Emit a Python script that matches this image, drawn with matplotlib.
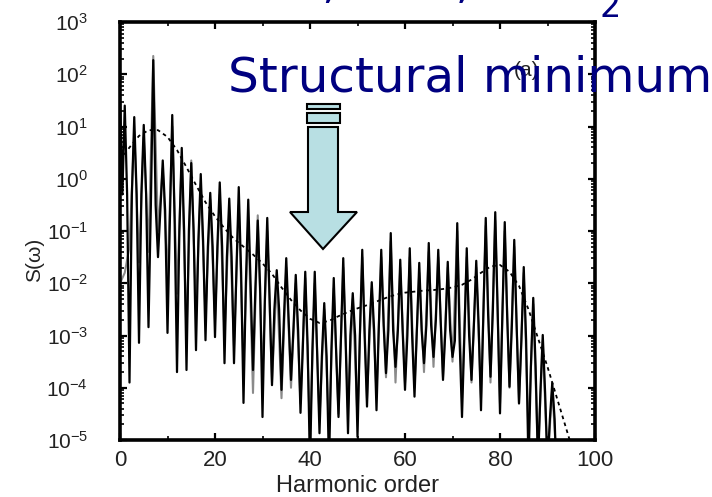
import numpy as np
import matplotlib
matplotlib.use('Agg')
import matplotlib.pyplot as plt
from matplotlib.patches import Polygon, Rectangle
from matplotlib.ticker import FixedLocator, LogLocator, NullFormatter

plt.rcParams['font.family'] = ['Liberation Sans', 'DejaVu Sans']
plt.rcParams['mathtext.fontset'] = 'custom'
plt.rcParams['mathtext.rm'] = 'Liberation Sans'
plt.rcParams['mathtext.it'] = 'Liberation Sans:italic'

# ---------------- data (log10 of S(omega)) ----------------
odd_orders = list(range(1, 100, 2))
even_orders = list(range(0, 101, 2))

black_peak_log = [1.4, 1.18, 1.03, 2.27, 0.35, 1.22, 0.59, 0.30, 0.09, -0.27,
                  -0.07, -0.38, -0.16, -0.40, -0.80, -0.75, -1.75, -1.52, -1.84, -1.78,
                  -1.78, -2.38, -1.90, -1.52, -2.19, -1.36, -1.98, -1.36, -1.04, -1.55,
                  -1.33, -1.61, -1.23, -1.36, -1.59, -0.85, -1.33, -1.57, -0.75, -0.64,
                  -0.83, -1.17, -1.69, -2.28, -2.99, -3.91, -5.5, -6, -6, -6]

black_band_log = [-0.3, -0.3, -0.3, -0.5, -0.6, -0.8, -1.0, -1.0, -1.2, -1.3,
                  -1.3, -1.5, -1.8, -2.0, -2.1, -2.3, -2.5, -2.7, -2.9, -3.2,
                  -3.3, -3.4, -3.3, -3.1, -3.0, -3.0, -2.9, -2.8, -2.9, -2.9,
                  -3.0, -2.9, -2.8, -2.7, -2.9, -3.1, -3.0, -2.8, -2.6, -2.5,
                  -2.6, -2.8, -3.1, -3.6, -4.1, -4.6, -5.3, -6, -6, -6]

black_trough_log = [1.6, -3.9, -3.14, -2.84, -1.5, -2.95, -3.7, -3.66, -3.28, -3.09,
                    -3.03, -3.53, -3.53, -4.29, -3.66, -4.56, -3.95, -4.04, -3.85, -4.48,
                    -5.5, -4.87, -5.5, -4.56, -4.87, -4.94, -4.36, -4.43, -3.72, -3.6,
                    -4.04, -4.17, -3.53, -3.41, -3.85, -3.41, -4.56, -3.85, -4.43, -3.79,
                    -4.49, -3.98, -4.3, -5.5, -5.5, -5.5, -6, -6, -6, -6, -6]

gray_orders = list(range(0, 101))
gray_log = [-2.0, -1.8, -1.3, 0.9, -1.6, 0.8, -1.4, 2.35, -1.0, 0.2,
            -1.9, 1.0, -2.2, 0.4, -3.0, 0.35, -2.5, -0.1, -2.6, -0.4,
            -2.7, -0.3, -3.0, -0.6, -3.2, -0.5, -3.6, -0.8, -4.1, -0.7,
            -3.8, -1.0, -3.9, -1.9, -4.2, -1.7, -4.0, -2.0, -4.3, -1.9,
            -4.9, -2.0, -4.6, -2.5, -4.8, -2.1, -4.5, -1.7, -4.4, -2.3,
            -4.6, -1.5, -4.2, -2.1, -4.1, -1.5, -3.8, -1.2, -3.9, -1.7,
            -3.9, -1.5, -4.0, -1.8, -3.7, -1.4, -3.6, -1.5, -3.8, -1.7,
            -3.5, -1.0, -4.2, -1.5, -3.9, -1.7, -4.2, -0.9, -3.9, -0.8,
            -4.3, -1.0, -4.0, -1.3, -4.3, -1.8, -4.9, -2.4, -5.3, -3.1,
            -5.5, -4.0, -5.6, -5.3, -6, -6, -6, -6, -6, -6,
            -6]

env_orders = list(range(0, 101, 2))
env_log = [0.35, 0.6, 0.82, 0.93, 0.93, 0.8, 0.55, 0.22, -0.12, -0.45,
           -0.72, -0.95, -1.15, -1.3, -1.45, -1.62, -1.82, -2.08, -2.32, -2.52,
           -2.68, -2.76, -2.72, -2.63, -2.55, -2.48, -2.42, -2.35, -2.28, -2.22,
           -2.18, -2.16, -2.14, -2.13, -2.11, -2.08, -2.03, -1.93, -1.8, -1.68,
           -1.65, -1.78, -2.05, -2.5, -3.05, -3.6, -4.2, -4.8, -5.4, -6, -6]

xtick_values = [0, 20, 40, 60, 80, 100]

# ---------------- build black trace ----------------
bx, by = [], []
for i, n in enumerate(odd_orders):
    bx += [even_orders[i], n - 0.5, n, n + 0.5]
    by += [black_trough_log[i], black_band_log[i], black_peak_log[i], black_band_log[i]]
bx.append(even_orders[-1])
by.append(black_trough_log[-1])
by = 10.0 ** np.array(by)

W, H = 712, 497
fig = plt.figure(figsize=(W / 100, H / 100), dpi=100)
ax = fig.add_axes([120 / W, 1 - 440 / H, 475 / W, 418 / H])

ax.plot(gray_orders, 10.0 ** np.array(gray_log), color='#8a8a8a', lw=1.5, zorder=2)
ax.plot(bx, by, color='black', lw=1.6, zorder=3)
ax.plot(env_orders, 10.0 ** np.array(env_log), color='black', lw=1.3,
        dashes=(2.0, 2.0), zorder=4)

ax.set_yscale('log')
ax.set_xlim(0, 100)
ax.set_ylim(1e-5, 1e3)
ax.xaxis.set_major_locator(FixedLocator(xtick_values))
ax.xaxis.set_minor_locator(FixedLocator([10, 30, 50, 70, 90]))
ax.yaxis.set_major_locator(LogLocator(base=10, numticks=20))
ax.yaxis.set_minor_locator(LogLocator(base=10, subs=np.arange(2, 10), numticks=20))
ax.yaxis.set_minor_formatter(NullFormatter())

for s in ax.spines.values():
    s.set_linewidth(2.6)
ax.tick_params(which='both', direction='in', top=True, right=True,
               labelcolor='#222222')
ax.tick_params(which='major', length=5, width=1.6)
ax.tick_params(which='minor', length=3, width=1.2)
ax.tick_params(axis='x', labelsize=16, pad=7)
ax.tick_params(axis='y', labelsize=15, pad=23)

ax.set_xlabel('Harmonic order', fontsize=17, color='#222222', labelpad=3)
ax.set_ylabel('S(ω)', fontsize=15, color='#222222')
ax.yaxis.set_label_coords(-0.16, 0.43)

ax.text(85.6, 120, '(a)', fontsize=15, ha='center', va='center', color='#222222', zorder=5)

# ---------------- annotation overlay ----------------
def fp(px, py):
    return (px / W, 1 - py / H)

fig.text(228 / W, 1 - 91 / H, 'Structural minimum', fontsize=34.8,
         family='DejaVu Sans', color='#000080', ha='left', va='baseline', zorder=10)

# heading cut off by the top edge: only commas and the subscript remain visible
fig.text(269 / W, 1 + 3 / H, 'Ar, OCS, CO', fontsize=34.8, family='DejaVu Sans',
         color='#000080', ha='left', va='baseline')
fig.text(600 / W, 1 - 17 / H, '2', fontsize=24, family='DejaVu Sans',
         color='#000080', ha='left', va='baseline')

arrow_fill = '#b8dfe3'
shaft = [fp(308, 127), fp(338, 127), fp(338, 212), fp(357, 212), fp(323, 249),
         fp(290, 212), fp(308, 212)]
fig.patches.append(Polygon(shaft, closed=True, transform=fig.transFigure,
                           facecolor=arrow_fill, edgecolor='black', lw=1.5, zorder=9))
for (y0, y1) in [(104, 109), (113, 123)]:
    x0, yb = fp(307, y1)
    fig.patches.append(Rectangle((x0, yb), 33 / W, (y1 - y0) / H, transform=fig.transFigure,
                                 facecolor=arrow_fill, edgecolor='black', lw=1.5, zorder=9))

fig.savefig('out.png', dpi=100)
